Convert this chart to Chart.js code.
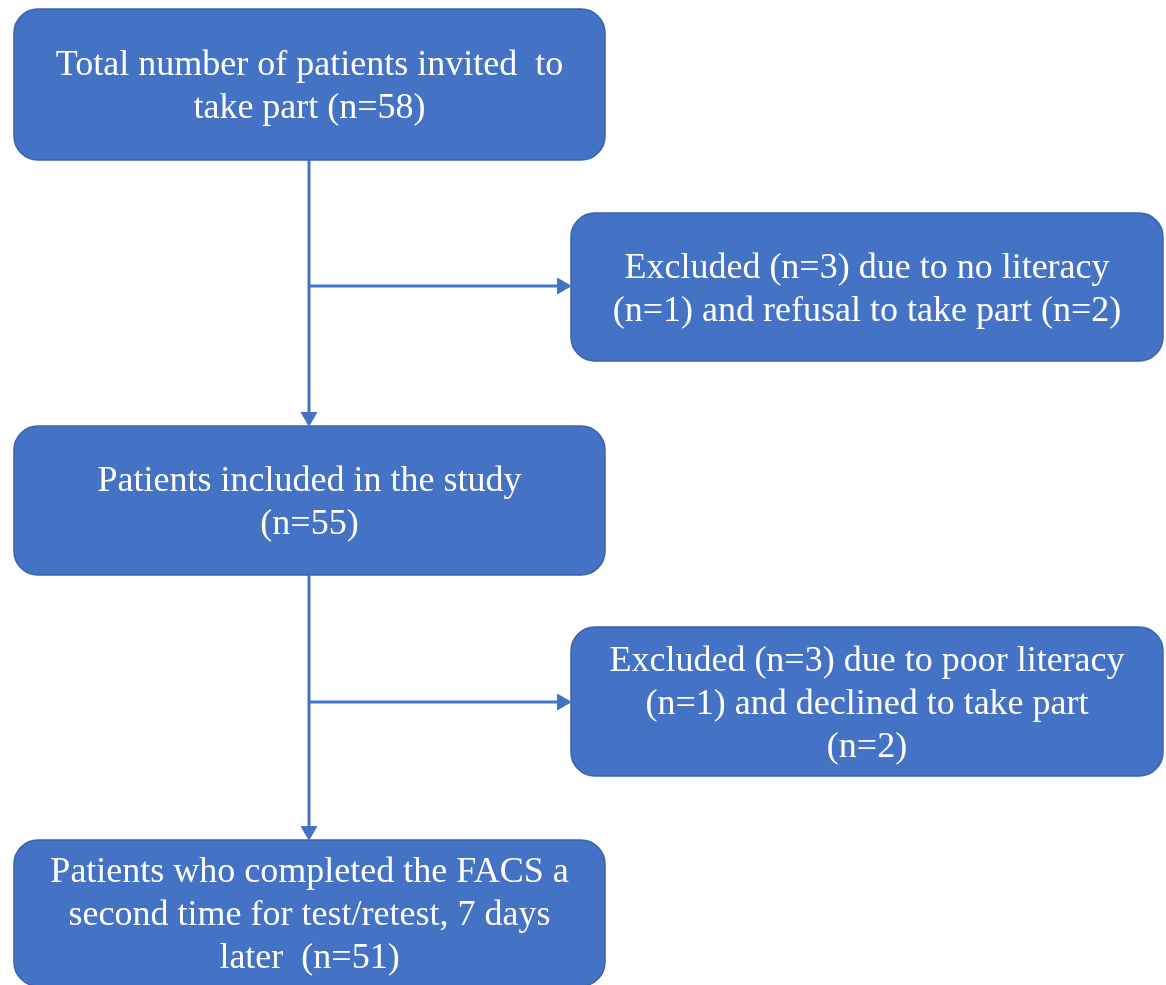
<!DOCTYPE html>
<html>
<head>
<meta charset="utf-8">
<title>Patient flow</title>
<script src="https://cdn.jsdelivr.net/npm/chart.js@4/dist/chart.umd.min.js"></script>
<style>
  html, body { margin: 0; padding: 0; background: #fff; }
  #wrap { width: 1166px; height: 985px; position: relative; }
</style>
</head>
<body>
<div id="wrap"><canvas id="flowChart"></canvas></div>
<script>
// counts
const stageNames = ['Invited', 'Excluded', 'Included', 'Excluded', 'Completed retest'];
const stageCounts = [58, 3, 55, 3, 51];
const literacyCounts = [1, 1];
const refusalCounts = [2, 2];

const boxText = [
  ['Total number of patients invited  to', `take part (n=${stageCounts[0]})`],
  [`Excluded (n=${stageCounts[1]}) due to no literacy`, `(n=${literacyCounts[0]}) and refusal to take part (n=${refusalCounts[0]})`],
  ['Patients included in the study', `(n=${stageCounts[2]})`],
  [`Excluded (n=${stageCounts[3]}) due to poor literacy`, `(n=${literacyCounts[1]}) and declined to take part`, `(n=${refusalCounts[1]})`],
  ['Patients who completed the FACS a', 'second time for test/retest, 7 days', `later  (n=${stageCounts[4]})`]
];

// layout, in the units of the hidden axes (1 unit = 1px)
const boxes = [
  { x0: 14, y0: 9, x1: 605, y1: 160 },
  { x0: 571, y0: 213, x1: 1163, y1: 361 },
  { x0: 14, y0: 426, x1: 605, y1: 575 },
  { x0: 571, y0: 627, x1: 1163, y1: 776 },
  { x0: 14, y0: 840, x1: 605, y1: 986 }
];
const spineX = 309;
const branchY = [286, 702];
const headR = 9;
const blue = '#4472c4';

function seg(a, b) {
  return {
    type: 'line',
    data: [a, b],
    borderColor: blue,
    borderWidth: 3,
    pointRadius: 0,
    showLine: true
  };
}

// connectors: trunk down from a box, branch right to the exclusion box
const datasets = [];
[[0, 2, 1], [2, 4, 3]].forEach(([from, to, side], i) => {
  datasets.push(seg({ x: spineX, y: boxes[from].y1 }, { x: spineX, y: boxes[to].y0 - headR }));
  datasets.push(seg({ x: spineX, y: branchY[i] }, { x: boxes[side].x0 - headR, y: branchY[i] }));
});

// arrow heads
datasets.push({
  type: 'scatter',
  data: [
    { x: spineX, y: boxes[2].y0 - headR },
    { x: boxes[1].x0 - headR, y: branchY[0] },
    { x: spineX, y: boxes[4].y0 - headR },
    { x: boxes[3].x0 - headR, y: branchY[1] }
  ],
  pointStyle: 'triangle',
  rotation: [180, 90, 180, 90],
  pointRadius: headR,
  backgroundColor: blue,
  borderColor: blue,
  borderWidth: 1
});

const boxPlugin = {
  id: 'flowBoxes',
  beforeDatasetsDraw(chart) {
    const { ctx, scales: { x, y } } = chart;
    ctx.save();
    boxes.forEach((b, i) => {
      const left = x.getPixelForValue(b.x0);
      const right = x.getPixelForValue(b.x1);
      const top = y.getPixelForValue(b.y0);
      const bottom = y.getPixelForValue(b.y1);
      ctx.beginPath();
      ctx.roundRect(left, top, right - left, bottom - top, 24);
      ctx.fillStyle = blue;
      ctx.fill();
      ctx.lineWidth = 1.5;
      ctx.strokeStyle = '#3a63ab';
      ctx.stroke();

      const lines = boxText[i];
      const cx = (left + right) / 2;
      const cy = (top + bottom) / 2 + 3;
      const lh = 43;
      ctx.fillStyle = '#ffffff';
      ctx.font = '36px "Liberation Serif", "Times New Roman", serif';
      ctx.textAlign = 'center';
      ctx.textBaseline = 'middle';
      lines.forEach((t, k) => {
        ctx.fillText(t, cx, cy + (k - (lines.length - 1) / 2) * lh);
      });
    });
    ctx.restore();
  }
};

const ctx = document.getElementById('flowChart').getContext('2d');
const flowChart = new Chart(ctx, {
  type: 'scatter',
  data: { datasets: datasets },
  options: {
    responsive: true,
    maintainAspectRatio: false,
    animation: false,
    layout: { padding: 0, autoPadding: false },
    scales: {
      x: { type: 'linear', min: 0, max: 1166, display: false },
      y: { type: 'linear', min: 0, max: 985, reverse: true, display: false }
    },
    plugins: {
      legend: { display: false },
      tooltip: { enabled: false }
    }
  },
  plugins: [boxPlugin]
});
</script>
</body>
</html>
